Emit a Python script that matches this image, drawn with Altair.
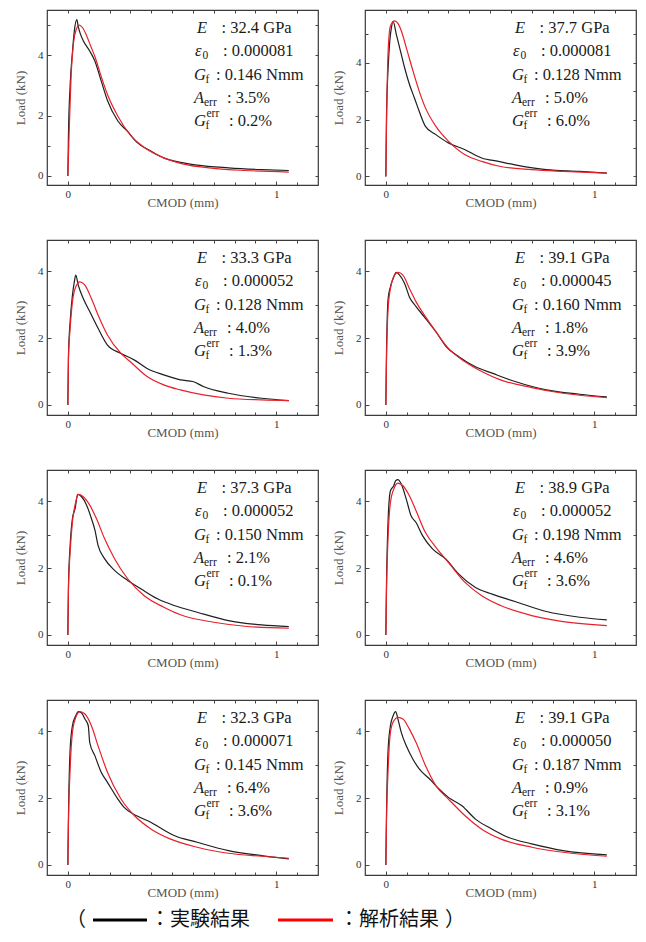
import altair as alt
import pandas as pd

# ---------------- data ----------------
# Panel 1
p1_exp_x = [0, 0.003, 0.011, 0.022, 0.031, 0.043, 0.050, 0.058, 0.074, 0.105, 0.13, 0.16, 0.19, 0.24, 0.29, 0.33, 0.40, 0.46, 0.54, 0.62, 0.77, 0.93, 1.06]
p1_exp_y = [0, 1.4, 3.0, 4.1, 4.8, 5.18, 4.95, 4.75, 4.48, 4.14, 3.8, 3.15, 2.5, 1.82, 1.45, 1.12, 0.82, 0.6, 0.45, 0.36, 0.27, 0.21, 0.18]
p1_ana_x = [0, 0.006, 0.016, 0.027, 0.04, 0.055, 0.07, 0.09, 0.11, 0.13, 0.16, 0.19, 0.24, 0.30, 0.365, 0.46, 0.55, 0.70, 0.85, 1.06]
p1_ana_y = [0, 1.4, 3.4, 4.4, 4.85, 5.0, 4.92, 4.65, 4.3, 3.95, 3.3, 2.7, 1.98, 1.35, 0.95, 0.6, 0.4, 0.25, 0.18, 0.13]
# Panel 2
p2_exp_x = [0, 0.003, 0.011, 0.019, 0.027, 0.035, 0.05, 0.066, 0.09, 0.113, 0.137, 0.16, 0.19, 0.24, 0.30, 0.38, 0.46, 0.54, 0.62, 0.77, 0.93, 1.06]
p2_exp_y = [0, 2.06, 3.82, 4.76, 5.24, 5.45, 5.0, 4.53, 3.82, 3.24, 2.76, 2.29, 1.76, 1.47, 1.18, 0.94, 0.65, 0.53, 0.41, 0.24, 0.18, 0.12]
p2_ana_x = [0, 0.003, 0.011, 0.022, 0.043, 0.058, 0.074, 0.098, 0.13, 0.16, 0.19, 0.24, 0.30, 0.38, 0.46, 0.55, 0.70, 0.85, 1.06]
p2_ana_y = [0, 1.7, 4.41, 5.29, 5.47, 5.38, 5.12, 4.53, 3.71, 3.0, 2.41, 1.76, 1.24, 0.76, 0.53, 0.35, 0.24, 0.18, 0.12]
# Panel 3
p3_exp_x = [0, 0.003, 0.011, 0.022, 0.031, 0.038, 0.05, 0.074, 0.105, 0.145, 0.19, 0.255, 0.32, 0.38, 0.46, 0.54, 0.60, 0.65, 0.77, 0.93, 1.06]
p3_exp_y = [0, 1.49, 2.49, 3.28, 3.68, 3.88, 3.58, 3.18, 2.79, 2.29, 1.79, 1.54, 1.34, 1.09, 0.9, 0.75, 0.70, 0.55, 0.35, 0.2, 0.13]
p3_ana_x = [0, 0.003, 0.011, 0.022, 0.038, 0.058, 0.082, 0.113, 0.145, 0.19, 0.255, 0.30, 0.38, 0.46, 0.54, 0.65, 0.77, 0.93, 1.06]
p3_ana_y = [0, 1.39, 2.29, 3.08, 3.53, 3.68, 3.58, 3.18, 2.69, 2.09, 1.54, 1.29, 0.85, 0.6, 0.45, 0.3, 0.2, 0.15, 0.13]
# Panel 4
p4_exp_x = [0, 0.003, 0.011, 0.022, 0.035, 0.05, 0.066, 0.09, 0.113, 0.145, 0.19, 0.24, 0.29, 0.35, 0.43, 0.51, 0.62, 0.77, 0.93, 1.06]
p4_exp_y = [0, 1.49, 3.18, 3.53, 3.78, 3.96, 3.88, 3.63, 3.23, 2.94, 2.59, 2.19, 1.74, 1.44, 1.14, 0.95, 0.70, 0.45, 0.32, 0.24]
p4_ana_x = [0, 0.003, 0.011, 0.022, 0.038, 0.058, 0.082, 0.113, 0.145, 0.19, 0.24, 0.30, 0.38, 0.46, 0.55, 0.70, 0.85, 1.06]
p4_ana_y = [0, 1.29, 2.89, 3.48, 3.83, 3.96, 3.88, 3.48, 3.08, 2.64, 2.19, 1.69, 1.29, 1.0, 0.75, 0.52, 0.35, 0.22]
# Panel 5
p5_exp_x = [0, 0.003, 0.011, 0.022, 0.035, 0.047, 0.066, 0.09, 0.113, 0.13, 0.145, 0.176, 0.224, 0.287, 0.35, 0.43, 0.51, 0.62, 0.77, 0.93, 1.06]
p5_exp_y = [0, 1.48, 2.68, 3.48, 3.78, 4.2, 4.13, 3.88, 3.48, 3.13, 2.68, 2.28, 1.93, 1.63, 1.38, 1.08, 0.88, 0.68, 0.43, 0.3, 0.25]
p5_ana_x = [0, 0.003, 0.011, 0.022, 0.038, 0.05, 0.074, 0.105, 0.137, 0.176, 0.224, 0.287, 0.365, 0.46, 0.55, 0.70, 0.85, 1.06]
p5_ana_y = [0, 1.38, 2.48, 3.38, 3.98, 4.2, 4.13, 3.88, 3.48, 2.88, 2.28, 1.68, 1.18, 0.83, 0.58, 0.38, 0.26, 0.2]
# Panel 6
p6_exp_x = [0, 0.003, 0.011, 0.022, 0.038, 0.047, 0.058, 0.074, 0.098, 0.121, 0.145, 0.176, 0.224, 0.287, 0.35, 0.43, 0.51, 0.62, 0.77, 0.93, 1.06]
p6_exp_y = [0, 1.47, 3.46, 4.31, 4.46, 4.61, 4.64, 4.51, 4.06, 3.56, 3.36, 2.97, 2.57, 2.27, 1.82, 1.42, 1.22, 1.0, 0.7, 0.53, 0.45]
p6_ana_x = [0, 0.003, 0.011, 0.022, 0.038, 0.058, 0.082, 0.113, 0.145, 0.19, 0.24, 0.30, 0.38, 0.46, 0.55, 0.70, 0.85, 1.06]
p6_ana_y = [0, 1.27, 2.97, 3.96, 4.36, 4.54, 4.46, 4.16, 3.71, 3.06, 2.62, 2.17, 1.57, 1.17, 0.88, 0.58, 0.40, 0.28]
# Panel 7
p7_exp_x = [0, 0.003, 0.011, 0.022, 0.038, 0.05, 0.066, 0.082, 0.098, 0.105, 0.13, 0.16, 0.19, 0.24, 0.27, 0.33, 0.40, 0.44, 0.51, 0.62, 0.77, 0.93, 1.06]
p7_exp_y = [0, 1.47, 3.46, 4.16, 4.46, 4.58, 4.54, 4.36, 4.16, 3.66, 3.26, 2.77, 2.47, 1.97, 1.72, 1.47, 1.27, 1.12, 0.88, 0.68, 0.43, 0.28, 0.18]
p7_ana_x = [0, 0.003, 0.011, 0.022, 0.038, 0.058, 0.082, 0.113, 0.145, 0.19, 0.255, 0.32, 0.40, 0.49, 0.62, 0.77, 0.93, 1.06]
p7_ana_y = [0, 1.27, 2.87, 3.96, 4.41, 4.58, 4.51, 4.16, 3.56, 2.77, 1.97, 1.47, 1.07, 0.78, 0.53, 0.35, 0.26, 0.2]
# Panel 8
p8_exp_x = [0, 0.003, 0.011, 0.022, 0.035, 0.047, 0.058, 0.074, 0.098, 0.13, 0.16, 0.21, 0.255, 0.30, 0.365, 0.43, 0.51, 0.586, 0.70, 0.85, 1.06]
p8_exp_y = [0, 1.47, 3.46, 4.16, 4.46, 4.58, 4.36, 3.96, 3.56, 3.16, 2.87, 2.57, 2.27, 2.02, 1.77, 1.37, 1.07, 0.83, 0.63, 0.43, 0.30]
p8_ana_x = [0, 0.003, 0.011, 0.022, 0.038, 0.058, 0.082, 0.113, 0.145, 0.19, 0.24, 0.30, 0.38, 0.46, 0.55, 0.70, 0.85, 1.06]
p8_ana_y = [0, 1.27, 2.87, 3.96, 4.31, 4.41, 4.36, 4.06, 3.66, 2.97, 2.37, 1.97, 1.47, 1.07, 0.78, 0.53, 0.38, 0.26]

# identified parameters (annotation text)
E_GPa = ["32.4", "37.7", "33.3", "39.1", "37.3", "38.9", "32.3", "39.1"]
eps0 = ["0.000081", "0.000081", "0.000052", "0.000045", "0.000052", "0.000052", "0.000071", "0.000050"]
Gf_Nmm = ["0.146", "0.128", "0.128", "0.160", "0.150", "0.198", "0.145", "0.187"]
A_err = ["3.5", "5.0", "4.0", "1.8", "2.1", "4.6", "6.4", "0.9"]
Gf_err = ["0.2", "6.0", "1.3", "3.9", "0.1", "3.6", "3.6", "3.1"]

legend_labels = ["：実験結果", "：解析結果"]

EXP_X = [p1_exp_x, p2_exp_x, p3_exp_x, p4_exp_x, p5_exp_x, p6_exp_x, p7_exp_x, p8_exp_x]
EXP_Y = [p1_exp_y, p2_exp_y, p3_exp_y, p4_exp_y, p5_exp_y, p6_exp_y, p7_exp_y, p8_exp_y]
ANA_X = [p1_ana_x, p2_ana_x, p3_ana_x, p4_ana_x, p5_ana_x, p6_ana_x, p7_ana_x, p8_ana_x]
ANA_Y = [p1_ana_y, p2_ana_y, p3_ana_y, p4_ana_y, p5_ana_y, p6_ana_y, p7_ana_y, p8_ana_y]

# ---------------- layout / style ----------------
W, H = 271, 175
Y_TOP = [5.5, 5.85, 4.93, 4.93, 4.93, 4.93, 4.93, 4.93]
FONT = "Liberation Serif"
BLACK = "#1e1e1e"
RED = "#e8202a"
TXT = "#1a1a1a"

LINE_Y = [18, 41.3, 64.6, 88, 111.3]
SYM_X = [150, 148, 147, 147, 147]
SUB_X = [None, 155.5, 158.5, 157, 158.5]
COLON_X = [174.5, 176, 169, 180, 182]
SYMS = ["E", "ε", "G", "A", "G"]
SUBS = [None, "0", "f", "err", "f"]

MINOR_X = [0.0, 0.1, 0.2, 0.3, 0.4, 0.5, 0.6, 0.7, 0.8, 0.9, 1.0, 1.1]


def panel(i):
    exp = pd.DataFrame({"x": EXP_X[i], "y": EXP_Y[i]})
    ana = pd.DataFrame({"x": ANA_X[i], "y": ANA_Y[i]})
    xs = alt.Scale(domain=[-0.1, 1.2], nice=False, zero=False)
    ys = alt.Scale(domain=[-0.3, Y_TOP[i]], nice=False, zero=False)
    minor_y = [k for k in range(0, 6) if k <= Y_TOP[i]]

    black = alt.Chart(exp).mark_line(color=BLACK, strokeWidth=1.2, interpolate="monotone").encode(
        x=alt.X("x:Q", scale=xs, title=None,
                axis=alt.Axis(orient="bottom", values=MINOR_X, tickSize=3, offset=-3,
                              labels=False, domain=False, grid=False)),
        y=alt.Y("y:Q", scale=ys, title=None,
                axis=alt.Axis(orient="left", values=minor_y, tickSize=3, offset=-3,
                              labels=False, domain=False, grid=False)),
    )
    red = alt.Chart(ana).mark_line(color=RED, strokeWidth=1.2, interpolate="monotone").encode(
        x=alt.X("x:Q", scale=xs,
                axis=alt.Axis(orient="bottom", values=[0, 1], format="d", tickSize=4, offset=-4,
                              labelPadding=3, title="CMOD (mm)", titlePadding=-3,
                              domain=False, grid=False)),
        y=alt.Y("y:Q", scale=ys,
                axis=alt.Axis(orient="left", values=[0, 2, 4], format="d", tickSize=4, offset=-4,
                              labelPadding=4, title="Load (kN)", titlePadding=10,
                              domain=False, grid=False)),
    )
    ghost = alt.Chart(exp).mark_line(strokeOpacity=0).encode(
        x=alt.X("x:Q", scale=xs, title=None,
                axis=alt.Axis(orient="top", values=MINOR_X, tickSize=3, offset=-3,
                              labels=False, domain=False, grid=False)),
        y=alt.Y("y:Q", scale=ys, title=None,
                axis=alt.Axis(orient="right", values=minor_y, tickSize=3, offset=-3,
                              labels=False, domain=False, grid=False)),
    )

    vals = [": " + E_GPa[i] + " GPa", ": " + eps0[i], ": " + Gf_Nmm[i] + " Nmm",
            ": " + A_err[i] + "%", ": " + Gf_err[i] + "%"]
    sym_rows, small_rows, val_rows = [], [], []
    for k in range(5):
        sym_rows.append({"t": SYMS[k], "tx": SYM_X[k], "ty": LINE_Y[k]})
        if SUBS[k]:
            small_rows.append({"t": SUBS[k], "tx": SUB_X[k], "ty": LINE_Y[k] + 5})
        val_rows.append({"t": vals[k], "tx": COLON_X[k], "ty": LINE_Y[k]})
    small_rows.append({"t": "err", "tx": 159.5, "ty": LINE_Y[4] - 7})

    tx = alt.X("tx:Q", scale=alt.Scale(domain=[0, W], nice=False, zero=False), axis=None)
    ty = alt.Y("ty:Q", scale=alt.Scale(domain=[H, 0], nice=False, zero=False), axis=None)
    t_sym = alt.Chart(pd.DataFrame(sym_rows)).mark_text(
        font=FONT, fontSize=16.5, fontStyle="italic", align="left", baseline="middle", color=TXT
    ).encode(x=tx, y=ty, text="t:N")
    t_small = alt.Chart(pd.DataFrame(small_rows)).mark_text(
        font=FONT, fontSize=11.5, align="left", baseline="middle", color=TXT
    ).encode(x=tx, y=ty, text="t:N")
    t_val = alt.Chart(pd.DataFrame(val_rows)).mark_text(
        font=FONT, fontSize=16.5, align="left", baseline="middle", color=TXT
    ).encode(x=tx, y=ty, text="t:N")

    return alt.layer(black, red, ghost, t_sym, t_small, t_val).resolve_scale(
        x="independent", y="independent"
    ).properties(width=W, height=H)


panels = [panel(i) for i in range(8)]

# ---- legend row ----
one = pd.DataFrame({"k": [0]})
LEG_Y = -10
leg_font = "Noto Sans CJK JP"


def leg_text(s, xpos):
    return alt.Chart(one).mark_text(text=s, font=leg_font, fontSize=20, align="left",
                                    baseline="middle", color="#111").encode(
        x=alt.value(xpos), y=alt.value(LEG_Y))


def leg_rule(col, x1, x2):
    return alt.Chart(one).mark_rule(color=col, strokeWidth=3).encode(
        x=alt.value(x1), x2=alt.value(x2), y=alt.value(LEG_Y))


legend = alt.layer(
    leg_text("（", 19),
    leg_rule("#000000", 46, 100),
    leg_text(legend_labels[0], 103),
    leg_rule("#ff0000", 231, 286),
    leg_text(legend_labels[1], 292),
    leg_text("）", 398),
).properties(width=W, height=4, view=alt.ViewBackground(stroke="transparent"))

chart = alt.concat(
    *panels, legend, columns=2, spacing={"row": 55, "column": 47}, bounds="flush",
    align={"row": "each", "column": "all"},
).properties(
    padding={"left": 5, "top": 0, "right": 0, "bottom": 0}
).configure_view(
    stroke="#3a3a3a", strokeWidth=1.2
).configure_axis(
    labelFont=FONT, labelFontSize=11, labelColor="#333",
    titleFont=FONT, titleFontSize=13, titleFontWeight="normal", titleColor="#555",
    tickColor="#444", tickWidth=1,
)

chart.save("out.html", embed_options={"renderer": "svg", "actions": False})
